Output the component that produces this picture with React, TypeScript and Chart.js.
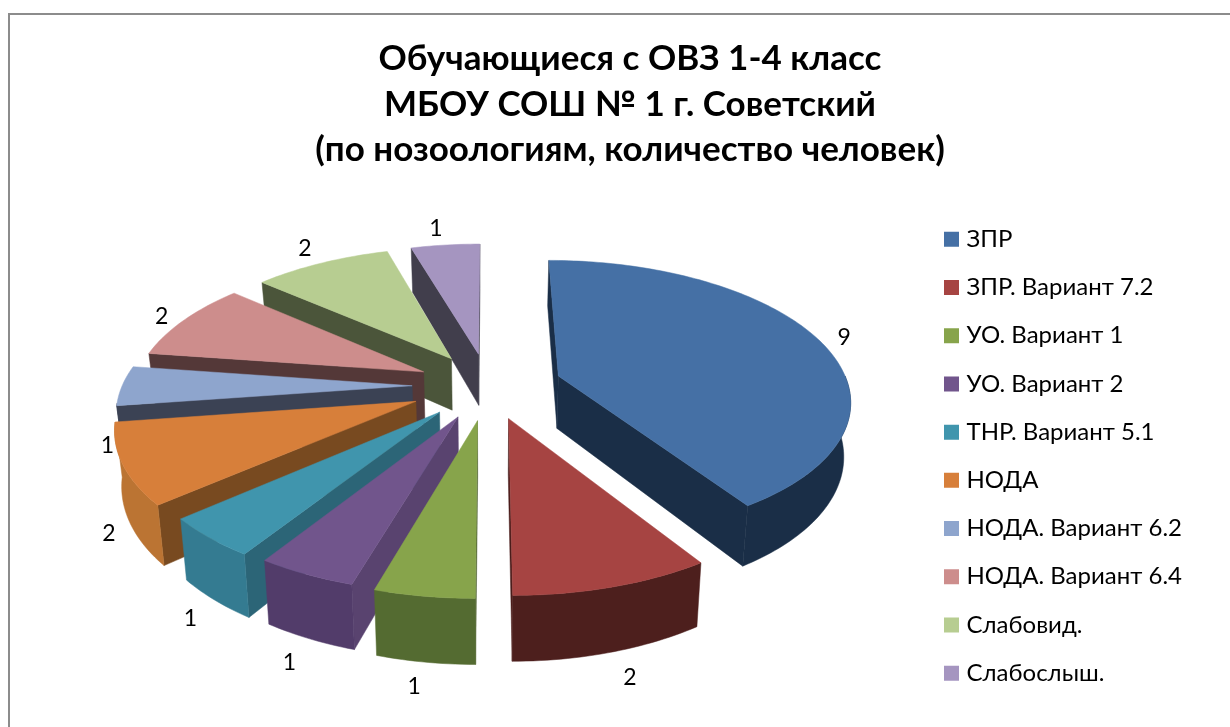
import React, { useEffect, useRef } from "react";
import { Chart, registerables } from "chart.js";

Chart.register(...registerables);

const titleLines = ["Обучающиеся с ОВЗ 1-4 класс", "МБОУ СОШ № 1 г. Советский", "(по нозоологиям, количество человек)"];
const categories = ["ЗПР", "ЗПР. Вариант 7.2", "УО. Вариант 1", "УО. Вариант 2", "ТНР. Вариант 5.1", "НОДА", "НОДА. Вариант 6.2", "НОДА. Вариант 6.4", "Слабовид.", "Слабослыш."];
const values = [9, 2, 1, 1, 1, 2, 1, 2, 2, 1];
const explode = [74, 70, 72, 70, 72, 78, 76, 72, 70, 70];
const topColors = ["#4570a5", "#a64442", "#87a44b", "#71558c", "#4095ad", "#d77f3a", "#8ea5cd", "#cd8d8c", "#b7cd91", "#a595c0"];
const wallColors = ["#1a2e47", "#4d1f1d", "#546b31", "#523c6a", "#347b91", "#bb7433", "#3b4254", "#543838", "#4b553a", "#413e4c"];
const cutColors = ["#1a2e47", "#4a1c1a", "#4f6130", "#59436f", "#2c6577", "#784a20", "#3b4254", "#543838", "#4b553a", "#413e4c"];

const FONT = "Lato, 'Open Sans', 'Noto Sans', sans-serif";
const R = 290, KY = 0.472, PERSP = 0.159, DEPTH = 53, LEAN = 0.00036;
const SHIFT_X = -8, SHIFT_Y = -70.5;

const pie3d = {
  id: "pie3d",
  beforeDatasetDraw(chart: any) {
    const ctx = chart.ctx;
    const arcs = chart.getDatasetMeta(0).data as any[];
    const cx = arcs[0].x + SHIFT_X;
    const cy = arcs[0].y + SHIFT_Y;
    const scale = (v: number) => 1 / (1 - (PERSP * v) / R);
    const proj = (u: number, v: number, d = 0): [number, number] => {
      const s = scale(v);
      return [cx + u * s * (1 - LEAN * d), cy + KY * v * s + d * s];
    };
    const poly = (pts: [number, number][], fill: any) => {
      ctx.beginPath();
      pts.forEach((p, i) => (i ? ctx.lineTo(p[0], p[1]) : ctx.moveTo(p[0], p[1])));
      ctx.closePath();
      ctx.fillStyle = fill;
      ctx.strokeStyle = fill;
      ctx.lineWidth = 0.5;
      ctx.fill();
      ctx.stroke();
    };
    const area = (pts: [number, number][]) =>
      pts.reduce((s, p, i) => {
        const q = pts[(i + 1) % pts.length];
        return s + p[0] * q[1] - q[0] * p[1];
      }, 0);

    const order = arcs
      .map((a, i) => ({ a, i, m: (a.startAngle + a.endAngle) / 2 }))
      .sort((x, y) => Math.sin(x.m) - Math.sin(y.m));

    ctx.save();
    for (const { a, i, m } of order) {
      const e = a.options.offset;
      const ou = Math.cos(m) * e;
      const ov = Math.sin(m) * e;
      const rim = (t: number, d = 0) => proj(ou + R * Math.cos(t), ov + R * Math.sin(t), d);
      const apex = proj(ou, ov);
      const apexD = proj(ou, ov, DEPTH);
      const a0 = a.startAngle;
      const a1 = a.endAngle;

      const startFace: [number, number][] = [apex, rim(a0), rim(a0, DEPTH), apexD];
      const endFace: [number, number][] = [apex, rim(a1), rim(a1, DEPTH), apexD];
      if (area(startFace) < 0) poly(startFace, cutColors[i]);
      if (area(endFace) > 0) poly(endFace, cutColors[i]);

      const w0 = Math.max(a0, 0);
      const w1 = Math.min(a1, Math.PI * 0.96);
      if (w1 > w0) {
        const n = Math.max(4, Math.ceil((w1 - w0) / 0.02));
        const upper: [number, number][] = [];
        const lower: [number, number][] = [];
        for (let k = 0; k <= n; k++) {
          const t = w0 + ((w1 - w0) * k) / n;
          upper.push(rim(t));
          lower.unshift(rim(t, DEPTH));
        }
        poly([...upper, ...lower], wallColors[i]);
      }

      const top: [number, number][] = [apex];
      const n = Math.max(4, Math.ceil((a1 - a0) / 0.02));
      for (let k = 0; k <= n; k++) top.push(rim(a0 + ((a1 - a0) * k) / n));
      poly(top, topColors[i]);
    }

    ctx.fillStyle = "#000";
    ctx.font = "23px " + FONT;
    ctx.textAlign = "center";
    ctx.textBaseline = "middle";
    arcs.forEach((a, i) => {
      const m = (a.startAngle + a.endAngle) / 2;
      const sinM = Math.sin(m);
      const cosM = Math.cos(m);
      const rr = (R + 72) * 1.055;
      const d = sinM > -0.05 ? DEPTH + 7 : sinM < -0.5 ? 12 * sinM : 0;
      const p = proj(rr * cosM, rr * sinM, d);
      ctx.fillText(String(values[i]), p[0] + (cosM > 0 ? 10 : -7), p[1]);
    });
    ctx.restore();
    return false;
  },
};

export default function App() {
  const ref = useRef<HTMLCanvasElement>(null);
  useEffect(() => {
    const chart = new Chart(ref.current as HTMLCanvasElement, {
      type: "pie",
      data: {
        labels: categories,
        datasets: [{ data: values, backgroundColor: topColors, offset: explode, borderWidth: 0 }],
      },
      plugins: [pie3d],
      options: {
        animation: false,
        responsive: false,
        layout: { padding: { left: 68, right: 38, top: 36, bottom: 11 } },
        plugins: {
          tooltip: { enabled: false },
          title: {
            display: true,
            text: titleLines,
            color: "#000",
            font: { family: FONT, size: 35, weight: "bold", lineHeight: 1.3 },
            padding: { top: 0, bottom: 24 },
          },
          legend: {
            position: "right",
            fullSize: false,
            labels: {
              color: "#000",
              font: { family: FONT, size: 24 },
              usePointStyle: true,
              pointStyle: "rect",
              boxWidth: 6,
              boxHeight: 15,
              padding: 24.2,
            },
          },
        },
      } as any,
    });
    return () => chart.destroy();
  }, []);
  return (
    <div style={{ position: "fixed", left: 0, top: 0, width: 1230, height: 727, background: "#fff" }}>
      <div style={{ position: "absolute", left: 8, top: 13, right: 0, bottom: 0, borderLeft: "2px solid #8c8c8c", borderTop: "2px solid #8c8c8c" }} />
      <canvas ref={ref} width={1230} height={727} style={{ position: "absolute", left: 0, top: 0 }} />
    </div>
  );
}
